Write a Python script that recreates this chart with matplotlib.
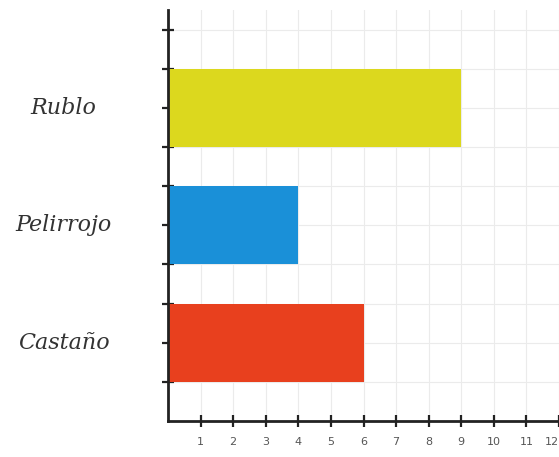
import matplotlib
matplotlib.use('Agg')
import matplotlib.pyplot as plt
import numpy as np

# datos
categorias = ['Castaño', 'Pelirrojo', 'Rublo']
valores = [6, 4, 9]
colores = ['#e8401e', '#1a90d8', '#dcd81e']
ticks_x = list(range(1, 13))

fig = plt.figure(figsize=(5.59, 4.57), dpi=100)
ax = fig.add_axes([168/559, 1 - 421/457, 1 - 168/559, (421 - 10)/457])

# barras centradas en 2, 5, 8 (ancho 2 unidades)
pos = np.arange(len(categorias)) * 3 + 2
ax.barh(pos, valores, height=2, color=colores, zorder=3)

ax.set_xlim(0, 12)
ax.set_ylim(0, 10.5)

# cuadricula
ax.set_xticks(ticks_x)
ax.set_yticks(range(1, 11))
ax.grid(True, color='#ebebeb', linewidth=0.8, zorder=0)

for s in ['top', 'right']:
    ax.spines[s].set_visible(False)
for s in ['left', 'bottom']:
    ax.spines[s].set_linewidth(2)
    ax.spines[s].set_color('#222222')
    ax.spines[s].set_zorder(4)

ax.tick_params(axis='both', direction='inout', length=9, width=1.6, color='#222222')
ax.tick_params(axis='x', labelsize=8, labelcolor='#555555', pad=7)
ax.set_yticklabels([])

# el 12 queda en el borde: alinearlo a la derecha para que se vea
ax.get_xticklabels()[-1].set_horizontalalignment('right')

# etiquetas de categoria
for p, c in zip(pos, categorias):
    ax.text(-3.2, p, c, ha='center', va='center', fontsize=16,
            family='DejaVu Serif', style='italic', color='#333333', clip_on=False)

plt.savefig('out.png', dpi=100)
